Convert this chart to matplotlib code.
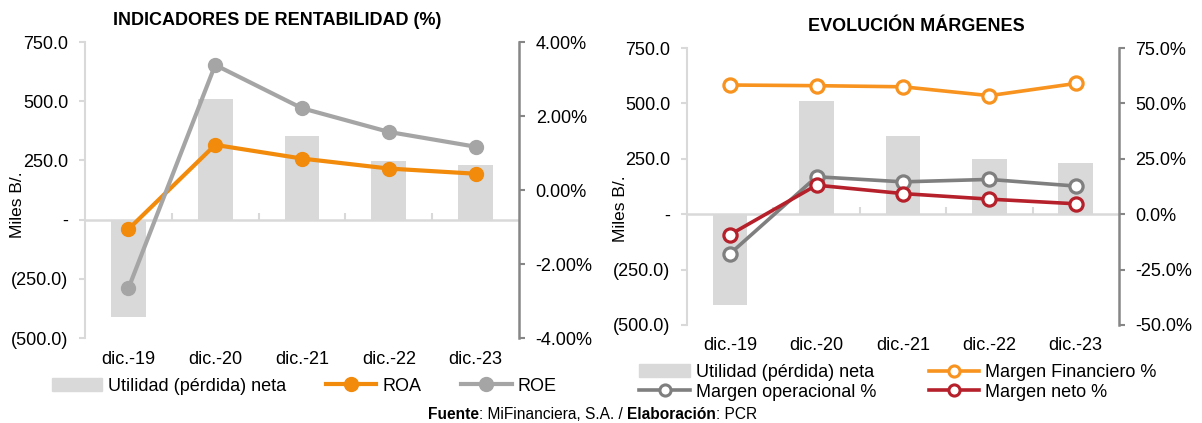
import numpy as np
import matplotlib
matplotlib.use("Agg")
import matplotlib.pyplot as plt
from matplotlib.ticker import FuncFormatter
from matplotlib.lines import Line2D
from matplotlib.patches import Patch

plt.rcParams['font.family'] = ['Liberation Sans', 'DejaVu Sans']

# datos
periodos = ['dic.-19', 'dic.-20', 'dic.-21', 'dic.-22', 'dic.-23']
utilidad = [-410, 510, 353, 249, 229]
roa = [-1.06, 1.22, 0.85, 0.58, 0.44]
roe = [-2.66, 3.38, 2.21, 1.57, 1.17]
margen_fin = [58.3, 58.0, 57.5, 53.5, 59.0]
margen_op = [-17.8, 16.9, 14.6, 15.7, 12.7]
margen_neto = [-9.2, 13.1, 9.3, 6.8, 4.7]

# colores
gris_barra = '#d9d9d9'
gris_eje = '#868686'
naranja = '#f28a0c'
naranja2 = '#f7931e'
gris_roe = '#a5a5a5'
gris_op = '#7f7f7f'
rojo = '#b5202a'
fs = 13


def miles(v, pos):
    if abs(v) < 1e-9:
        return '-'
    if v < 0:
        return '(%.1f)' % abs(v)
    return '%.1f' % v


def armar(fig, rect, titulo, xtit, ylim2, ticks2, fmt2):
    x = np.arange(len(periodos))
    ax1 = fig.add_axes(rect)
    ax1.bar(x, utilidad, width=0.4, color=gris_barra, zorder=1)
    ax1.set_xlim(-0.5, len(periodos) - 0.5)
    ax1.set_ylim(-500, 750)
    ax1.set_yticks([-500, -250, 0, 250, 500, 750])
    ax1.yaxis.set_major_formatter(FuncFormatter(miles))
    ax1.set_xticks(x, periodos)
    ax1.tick_params(axis='x', length=0, pad=9, labelsize=fs)
    ax1.tick_params(axis='y', length=4, color=gris_barra, width=1.5, pad=8, labelsize=fs)
    for s in ['top', 'right', 'bottom']:
        ax1.spines[s].set_visible(False)
    ax1.spines['left'].set_color(gris_barra)
    ax1.spines['left'].set_linewidth(1.5)
    ax1.axhline(0, color=gris_barra, lw=1.8, zorder=2)
    sec = ax1.secondary_xaxis(0.4)
    sec.set_xticks(x[:-1] + 0.5)
    sec.tick_params(direction='in', length=5, color=gris_barra, width=1.5, labelbottom=False)
    sec.spines['bottom'].set_visible(False)
    ax1.set_ylabel('Miles B/.', fontsize=12.5)
    ax1.set_title(titulo, fontsize=13, fontweight='bold', pad=12, x=xtit)

    ax2 = ax1.twinx()
    ax2.set_ylim(*ylim2)
    ax2.set_yticks(ticks2)
    ax2.yaxis.set_major_formatter(FuncFormatter(fmt2))
    for s in ['top', 'left', 'bottom']:
        ax2.spines[s].set_visible(False)
    ax2.spines['right'].set_color(gris_eje)
    ax2.spines['right'].set_linewidth(1.8)
    ax2.tick_params(axis='y', length=4, color=gris_eje, width=1.5, pad=8, labelsize=fs)
    return ax1, ax2


fig = plt.figure(figsize=(12.02, 4.23), dpi=100)
x = np.arange(len(periodos))

# grafico izquierdo
a1, a2 = armar(fig, [0.0707, 0.2009, 0.3611, 0.6998], 'INDICADORES DE RENTABILIDAD (%)', 0.442,
               (-4, 4), [-4, -2, 0, 2, 4], lambda v, p: '%.2f%%' % v)
a1.yaxis.set_label_coords(-0.138, 0.45)
a2.plot(x, roa, color=naranja, lw=3, marker='o', ms=10, zorder=3)
a2.plot(x, roe, color=gris_roe, lw=3, marker='o', ms=10, zorder=3)

h1 = [Patch(color=gris_barra),
      Line2D([], [], color=naranja, lw=3, marker='o', ms=10),
      Line2D([], [], color=gris_roe, lw=3, marker='o', ms=10)]
fig.legend(h1, ['Utilidad (pérdida) neta', 'ROA', 'ROE'], ncol=3, frameon=False,
           fontsize=fs, loc='center', bbox_to_anchor=(0.253, 0.087),
           handlelength=2.8, handletextpad=0.33, columnspacing=2.2)

# grafico derecho
b1, b2 = armar(fig, [0.5715, 0.2317, 0.3594, 0.6548], 'EVOLUCIÓN MÁRGENES', 0.532,
               (-50, 75), [-50, -25, 0, 25, 50, 75], lambda v, p: '%.1f%%' % v)
b1.yaxis.set_label_coords(-0.137, 0.42)
for serie, col in [(margen_fin, naranja2), (margen_op, gris_op), (margen_neto, rojo)]:
    b2.plot(x, serie, color=col, lw=2.6, marker='o', ms=9.5, mfc='white', mec=col, mew=2.3, zorder=3)

h2 = [Patch(color=gris_barra),
      Line2D([], [], color=gris_op, lw=2.6, marker='o', ms=8, mfc='white', mew=2.2),
      Line2D([], [], color=naranja2, lw=2.6, marker='o', ms=8, mfc='white', mew=2.2),
      Line2D([], [], color=rojo, lw=2.6, marker='o', ms=8, mfc='white', mew=2.2)]
fig.legend(h2, ['Utilidad (pérdida) neta', 'Margen operacional %', 'Margen Financiero %', 'Margen neto %'],
           ncol=2, frameon=False, fontsize=fs, loc='center', bbox_to_anchor=(0.747, 0.096),
           handlelength=2.8, handletextpad=0.33, columnspacing=2.9, labelspacing=0.15)

# fuente
fsz = 11.2
t1 = fig.text(0.356, 0.021, 'Fuente', fontsize=fsz, fontweight='bold', va='center', ha='left')
t2 = a1.annotate(': MiFinanciera, S.A. / ', xy=(1, 0), xycoords=t1, va='bottom', ha='left',
                 fontsize=fsz, annotation_clip=False)
t3 = a1.annotate('Elaboración', xy=(1, 0), xycoords=t2, va='bottom', ha='left',
                 fontsize=fsz, fontweight='bold', annotation_clip=False)
a1.annotate(': PCR', xy=(1, 0), xycoords=t3, va='bottom', ha='left',
            fontsize=fsz, annotation_clip=False)

fig.savefig('out.png', dpi=100)
